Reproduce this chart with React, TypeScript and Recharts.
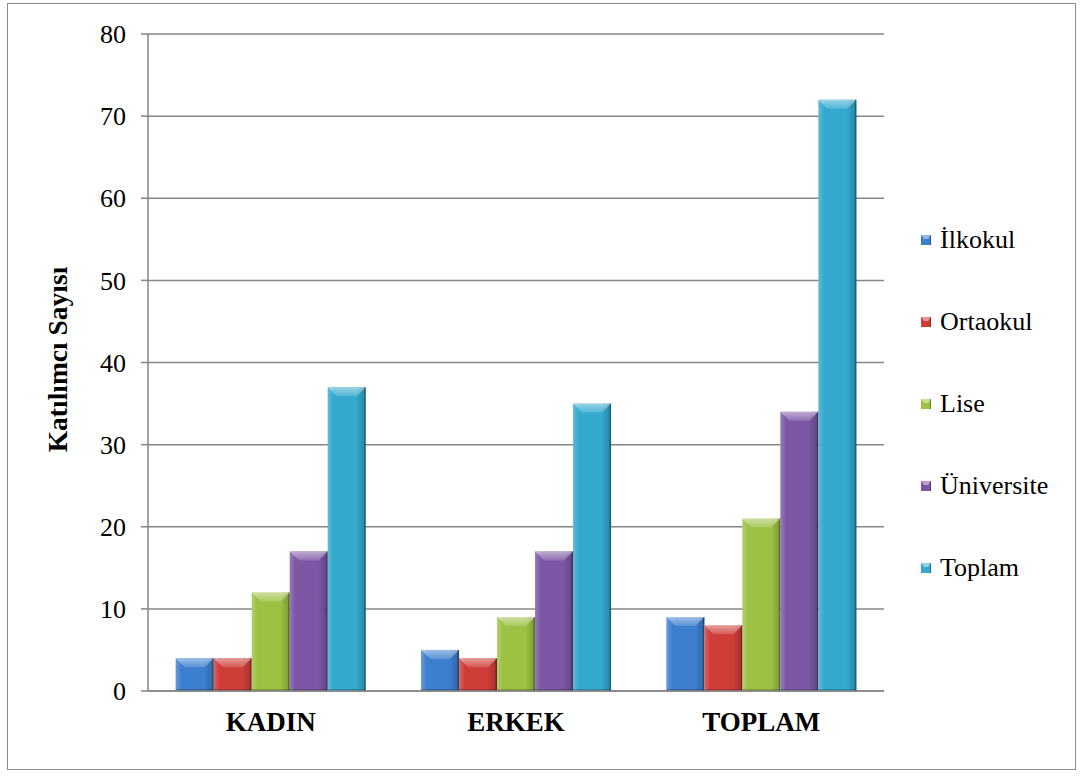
import { BarChart, Bar, XAxis, YAxis, CartesianGrid, Legend, Label } from 'recharts';

const categories = ['KADIN', 'ERKEK', 'TOPLAM'];
const ilkokul = [4, 5, 9];
const ortaokul = [4, 4, 8];
const lise = [12, 9, 21];
const universite = [17, 17, 34];
const toplam = [37, 35, 72];
const yTicks = [0, 10, 20, 30, 40, 50, 60, 70, 80];

const series = [
  { key: 'ilkokul', name: 'İlkokul', values: ilkokul, color: '#3d7fcf' },
  { key: 'ortaokul', name: 'Ortaokul', values: ortaokul, color: '#cf3d39' },
  { key: 'lise', name: 'Lise', values: lise, color: '#9cc143' },
  { key: 'universite', name: 'Üniversite', values: universite, color: '#7b57a5' },
  { key: 'toplam', name: 'Toplam', values: toplam, color: '#33a9cd' },
];

const data = categories.map((c, i) => {
  const row: Record<string, string | number> = { name: c };
  series.forEach(s => { row[s.key] = s.values[i]; });
  return row;
});

const FONT = 'Liberation Serif';
const GREY = '#868686';

// bar with an office-style bevel on top and shaded sides
function BevelBar(props: any) {
  const { x, y, width: w, height: h, fill } = props;
  if (!w || !h || h <= 0) return null;
  const d = Math.min(9, w / 3, h / 2);
  return (
    <g>
      <rect x={x} y={y} width={w} height={h} fill={fill} />
      <rect x={x} y={y} width={w} height={h} fill="url(#sideShade)" />
      <polygon
        points={`${x},${y} ${x + w},${y} ${x + w - d},${y + d} ${x + d},${y + d}`}
        fill="url(#topShade)"
      />
      <rect x={x + w - 1.5} y={y} width={1.5} height={h} fill="#000" fillOpacity={0.3} />
      <rect x={x} y={y + h - 2} width={w} height={2} fill="#000" fillOpacity={0.2} />
    </g>
  );
}

function LegendBox() {
  return (
    <div style={{ fontFamily: FONT, fontSize: 26, color: '#000' }}>
      {series.map(s => (
        <div key={s.key} style={{ height: 82, display: 'flex', alignItems: 'center' }}>
          <svg width={10} height={10} style={{ marginRight: 9 }}>
            <rect x={0} y={0} width={10} height={10} fill={s.color} />
            <polygon points="0,0 10,0 7,4 3,4" fill="#fff" fillOpacity={0.45} />
            <rect x={9} y={0} width={1} height={10} fill="#000" fillOpacity={0.3} />
          </svg>
          <span>{s.name}</span>
        </div>
      ))}
    </div>
  );
}

export default function App() {
  return (
    <div
      style={{
        position: 'absolute',
        left: 7,
        top: 3,
        width: 1067,
        height: 765,
        border: '1px solid #8c8c8c',
        background: '#fff',
        fontFamily: FONT,
      }}
    >
      <BarChart
        width={1067}
        height={765}
        data={data}
        margin={{ top: 30, right: 191, bottom: 48, left: 0 }}
        barCategoryGap="11.3%"
        barGap={0}
      >
        <defs>
          <linearGradient id="sideShade" x1="0" y1="0" x2="1" y2="0">
            <stop offset="0" stopColor="#fff" stopOpacity={0.22} />
            <stop offset="0.15" stopColor="#fff" stopOpacity={0} />
            <stop offset="0.75" stopColor="#000" stopOpacity={0} />
            <stop offset="1" stopColor="#000" stopOpacity={0.22} />
          </linearGradient>
          <linearGradient id="topShade" x1="0" y1="0" x2="0" y2="1">
            <stop offset="0" stopColor="#fff" stopOpacity={0.5} />
            <stop offset="1" stopColor="#fff" stopOpacity={0.15} />
          </linearGradient>
        </defs>
        <CartesianGrid vertical={false} stroke={GREY} strokeWidth={1.5} />
        <XAxis
          dataKey="name"
          tickLine={false}
          axisLine={{ stroke: GREY, strokeWidth: 1.5 }}
          tickMargin={15}
          tick={{ fill: '#000', fontFamily: FONT, fontSize: 27, fontWeight: 'bold' }}
        />
        <YAxis
          width={140}
          domain={[0, 80]}
          ticks={yTicks}
          interval={0}
          tickSize={7}
          tickMargin={15}
          axisLine={{ stroke: GREY, strokeWidth: 1.5 }}
          tickLine={{ stroke: GREY, strokeWidth: 1.5 }}
          tick={{ fill: '#000', fontFamily: FONT, fontSize: 26 }}
        >
          <Label
            content={({ viewBox }: any) => {
              const cx = viewBox.x + 49;
              const cy = viewBox.y + viewBox.height / 2 - 3;
              return (
                <text
                  x={cx}
                  y={cy}
                  transform={`rotate(-90, ${cx}, ${cy})`}
                  textAnchor="middle"
                  dominantBaseline="central"
                  fontFamily={FONT}
                  fontSize={27.5}
                  fontWeight="bold"
                  fill="#000"
                >
                  Katılımcı Sayısı
                </text>
              );
            }}
          />
        </YAxis>
        <Legend
          layout="horizontal"
          verticalAlign="middle"
          align="center"
          content={() => <LegendBox />}
          wrapperStyle={{ position: 'absolute', left: 913, top: 195, width: 150, height: 410 }}
        />
        {series.map(s => (
          <Bar
            key={s.key}
            dataKey={s.key}
            name={s.name}
            fill={s.color}
            shape={BevelBar}
            isAnimationActive={false}
          />
        ))}
      </BarChart>
    </div>
  );
}
